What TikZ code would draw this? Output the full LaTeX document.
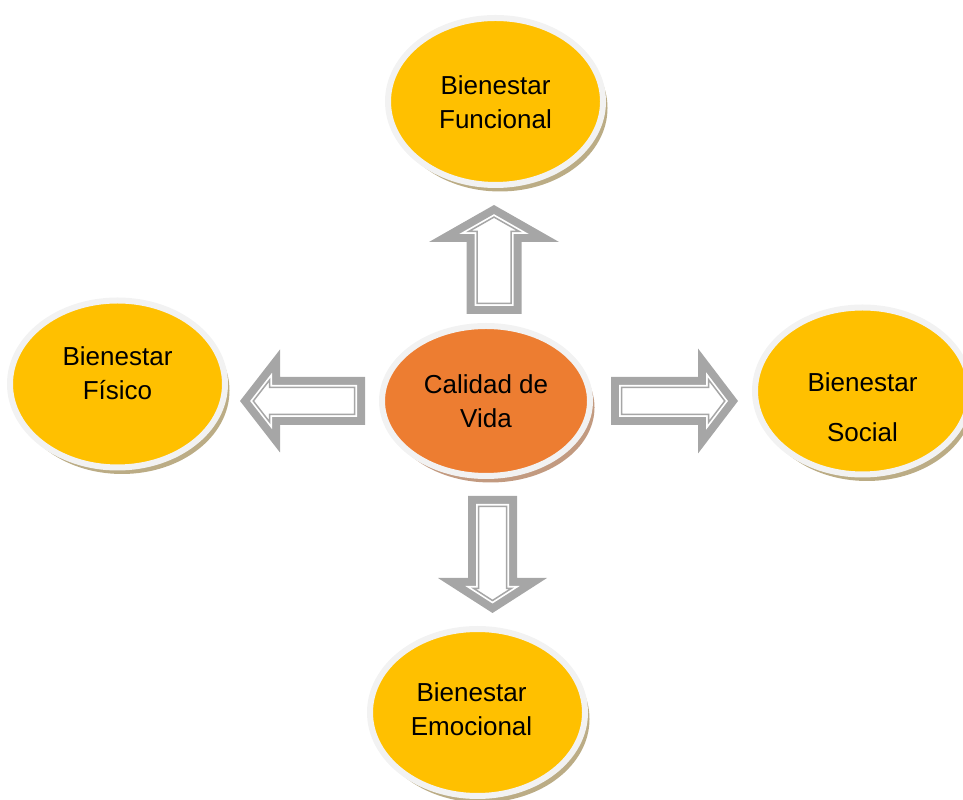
\documentclass[tikz,border=0pt]{standalone}
\usepackage{fontspec}
\setmainfont{Liberation Sans}
\usepackage{tikz}
\usetikzlibrary{shapes,shadows,calc}
\definecolor{amarillo}{HTML}{FFC000}
\definecolor{naranja}{HTML}{ED7D31}
\definecolor{borde}{HTML}{F2F2F2}
\definecolor{sombra}{HTML}{BBAC85}
\definecolor{sombrab}{HTML}{C29A80}
\definecolor{gris}{HTML}{A6A6A6}

\newcommand\rotulo[2][-0.19cm]{\raisebox{#1}[0pt][0pt]{\begin{tabular}{@{}c@{}}#2\end{tabular}}}
% contorno de la flecha: largo, medio cuerpo, media punta, largo punta, margen
\newcommand\contorno[5]{%
  \pgfmathsetmacro\flm{sqrt((#3)^2+(#4)^2)}%
  \pgfmathsetmacro\fla{#3-(#5)*(#3+\flm)/(#4)}%
  \pgfmathsetmacro\flb{#1-(#5)*\flm/(#3)}%
  \pgfmathsetmacro\flc{#1-(#4)+(#5)}%
  \pgfmathsetmacro\fls{#2-(#5)}%
  \def\fld{#5}%
}
\def\trazo{(\fld,\fls) -- (\flc,\fls) -- (\flc,\fla) -- (\flb,0) -- (\flc,-\fla) -- (\flc,-\fls) -- (\fld,-\fls) -- cycle}

\tikzstyle{elipse} = [ellipse, draw=borde, line width=0.12cm, inner sep=0pt]
\tikzstyle{bienestar} = [elipse, fill=amarillo, minimum width=4.3cm, minimum height=3.34cm, drop shadow={shadow xshift=0.09cm, shadow yshift=-0.13cm, fill=sombra, opacity=1}]
\tikzstyle{calidad} = [elipse, fill=naranja, minimum width=4.16cm, minimum height=3cm, drop shadow={shadow xshift=0.09cm, shadow yshift=-0.13cm, fill=sombrab, opacity=1}]
\tikzset{
  pics/flecha/.style n args={4}{code={
    \contorno{#1}{#2}{#3}{#4}{0}
    \fill[gris] \trazo;
    \contorno{#1}{#2}{#3}{#4}{0.16}
    \fill[white] \trazo;
    \contorno{#1}{#2}{#3}{#4}{0.21}
    \draw[gris, line width=0.85pt] \trazo;
  }}
}

\begin{document}
\begin{tikzpicture}[font=\fontsize{14.8}{19.3}\selectfont]
\useasboundingbox (0,0) rectangle (19.26,16);
\node [calidad] (cv) at (9.72,7.98) {\rotulo{Calidad de\\Vida}};
\node [bienestar, above of=cv, node distance=5.99cm, xshift=0.19cm] (fun) {\rotulo{Bienestar\\Funcional}};
\node [bienestar, left of=cv, node distance=7.37cm, yshift=0.34cm] (fis) {\rotulo[0.03cm]{Bienestar\\Físico}};
\node [bienestar, right of=cv, node distance=7.53cm, yshift=0.2cm] (soc) {\rotulo[-0.5cm]{Bienestar\\[9.6pt]Social}};
\node [bienestar, below of=cv, node distance=6.23cm, xshift=-0.17cm] (emo) {\rotulo[-0.11cm]{\hspace*{-0.24cm}\begin{tabular}{@{}c@{}}Bienestar\\Emocional\end{tabular}}};

\pic [rotate=90] at ($(cv.north)+(0.16,0.18)$) {flecha={2.18}{0.55}{1.30}{0.74}};
\pic at ($(cv.east)+(0.36,0)$) {flecha={2.54}{0.48}{1.05}{0.80}};
\pic [rotate=180] at ($(cv.west)+(-0.28,0)$) {flecha={2.50}{0.48}{1.03}{0.80}};
\pic [rotate=-90] at ($(cv.south)+(0.13,-0.34)$) {flecha={2.34}{0.49}{1.09}{0.70}};
\end{tikzpicture}
\end{document}
